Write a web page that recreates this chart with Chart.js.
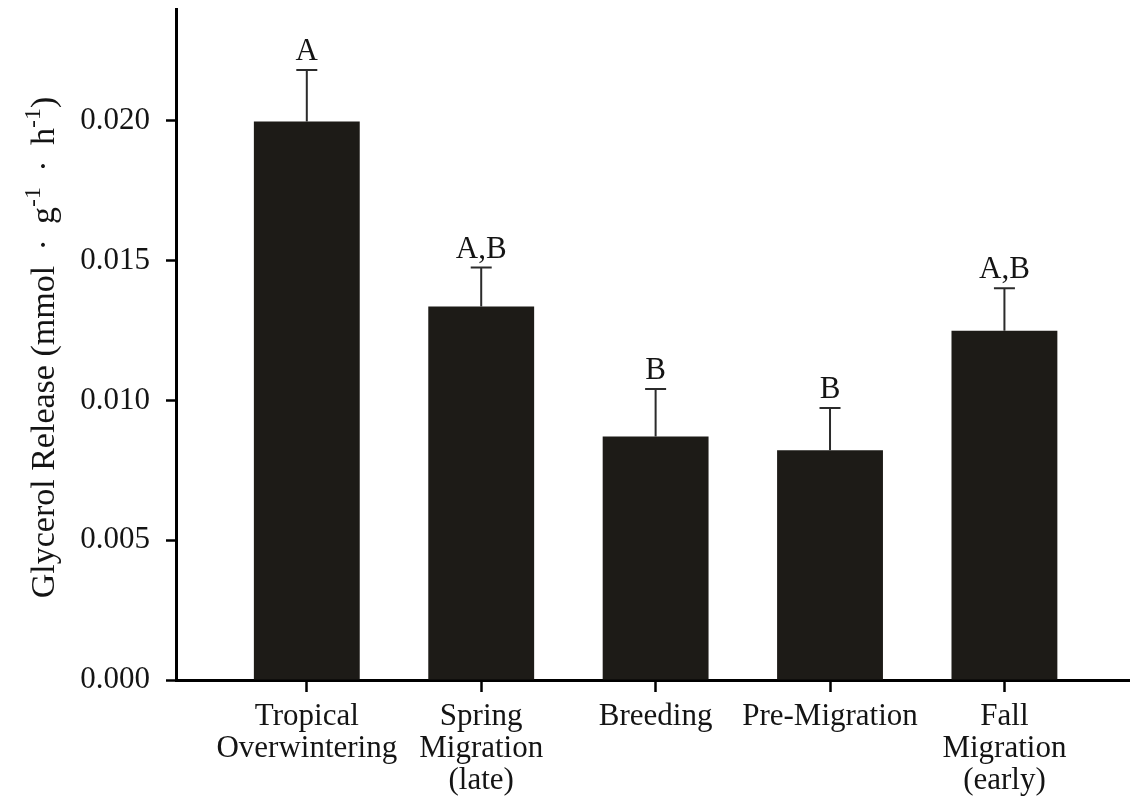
<!DOCTYPE html>
<html>
<head>
<meta charset="utf-8">
<script src="https://cdn.jsdelivr.net/npm/chart.js@4"></script>
<style>
  html, body { margin: 0; padding: 0; background: #ffffff; }
  #wrap { width: 1130px; height: 808px; }
</style>
</head>
<body>
<div id="wrap"><canvas id="c" width="1130" height="808"></canvas></div>
<script>
// ---- data ----
const categories = [
  ["Tropical", "Overwintering"],
  ["Spring", "Migration", "(late)"],
  ["Breeding"],
  ["Pre-Migration"],
  ["Fall", "Migration", "(early)"]
];
const means = [0.01998, 0.01336, 0.00871, 0.00822, 0.01249];
const errUpper = [0.00184, 0.00139, 0.00170, 0.00151, 0.00152];
const groupLetters = ["A", "A,B", "B", "B", "A,B"];
const yTicks = [0.000, 0.005, 0.010, 0.015, 0.020];
// y title pieces: [text, isSuperscript]
const yTitleParts = [
  ["Glycerol Release (mmol \u2009\u00B7\u2009 g", false],
  ["-1", true],
  [" \u2009\u00B7\u2009 h", false],
  ["-1", true],
  [")", false]
];

const FONT = "'Liberation Serif', 'Times New Roman', serif";
const INK = '#141414';

const errorBarPlugin = {
  id: 'errorBars',
  afterDatasetsDraw(chart) {
    const ctx = chart.ctx;
    const meta = chart.getDatasetMeta(0);
    const ys = chart.scales.y;
    ctx.save();
    meta.data.forEach((bar, i) => {
      const top = ys.getPixelForValue(means[i] + errUpper[i]);
      const base = ys.getPixelForValue(means[i]);
      ctx.strokeStyle = '#2b2b2b';
      ctx.lineWidth = 2;
      ctx.beginPath();
      ctx.moveTo(bar.x, base);
      ctx.lineTo(bar.x, top);
      ctx.moveTo(bar.x - 10.5, top);
      ctx.lineTo(bar.x + 10.5, top);
      ctx.stroke();
      ctx.fillStyle = INK;
      ctx.font = "31px " + FONT;
      ctx.textAlign = 'center';
      ctx.textBaseline = 'alphabetic';
      ctx.fillText(groupLetters[i], bar.x, top - 10);
    });
    ctx.restore();
  }
};

const yTitlePlugin = {
  id: 'yTitle',
  afterDraw(chart) {
    const ctx = chart.ctx;
    const area = chart.chartArea;
    const mainFont = "34px " + FONT;
    const supFont = "24px " + FONT;
    ctx.save();
    let total = 0;
    const widths = yTitleParts.map(([t, sup]) => {
      ctx.font = sup ? supFont : mainFont;
      const w = ctx.measureText(t).width;
      total += w;
      return w;
    });
    const cy = (area.top + area.bottom) / 2 + 3;
    const baseX = 54;
    ctx.translate(baseX, cy);
    ctx.rotate(-Math.PI / 2);
    ctx.fillStyle = INK;
    ctx.textBaseline = 'alphabetic';
    ctx.textAlign = 'left';
    let x = -total / 2;
    yTitleParts.forEach(([t, sup], i) => {
      ctx.font = sup ? supFont : mainFont;
      ctx.fillText(t, x, sup ? -14 : 0);
      x += widths[i];
    });
    ctx.restore();
  }
};

new Chart(document.getElementById('c'), {
  type: 'bar',
  data: {
    datasets: [{
      data: means.map((v, i) => ({ x: i + 1, y: v })),
      backgroundColor: '#1d1b17',
      borderColor: '#1d1b17',
      borderWidth: 0,
      barPercentage: 1.0,
      categoryPercentage: 0.607
    }]
  },
  options: {
    responsive: false,
    animation: false,
    layout: { padding: { top: 9, right: 0, left: 0, bottom: 0 } },
    plugins: { legend: { display: false }, tooltip: { enabled: false } },
    scales: {
      x: {
        type: 'linear',
        offset: false,
        min: 0.25,
        max: 5.72,
        afterBuildTicks(scale) { scale.ticks = categories.map((c, i) => ({ value: i + 1 })); },
        afterFit(scale) { scale.height = 128; scale.paddingLeft = 0; scale.paddingRight = 0; },
        border: { display: true, color: '#000', width: 3 },
        grid: { display: true, offset: false, drawOnChartArea: false, drawTicks: true, tickLength: 12, tickWidth: 2.5, tickColor: '#000' },
        ticks: {
          autoSkip: false,
          maxRotation: 0,
          minRotation: 0,
          padding: 9,
          color: INK,
          font: { family: FONT, size: 31, lineHeight: 1.03 },
          callback(value) { const c = categories[Math.round(value) - 1]; return c ? c : ''; }
        }
      },
      y: {
        min: 0,
        max: 0.024,
        afterBuildTicks(scale) { scale.ticks = yTicks.map(v => ({ value: v })); },
        afterFit(scale) { scale.width = 176; scale.paddingTop = 0; scale.paddingBottom = 0; },
        border: { display: true, color: '#000', width: 3 },
        grid: { display: true, drawOnChartArea: false, drawTicks: true, tickLength: 10, tickWidth: 2.5, tickColor: '#000' },
        ticks: {
          padding: 16,
          color: INK,
          font: { family: FONT, size: 31 },
          callback(value) { return value.toFixed(3); }
        }
      }
    }
  },
  plugins: [errorBarPlugin, yTitlePlugin]
});
</script>
</body>
</html>
